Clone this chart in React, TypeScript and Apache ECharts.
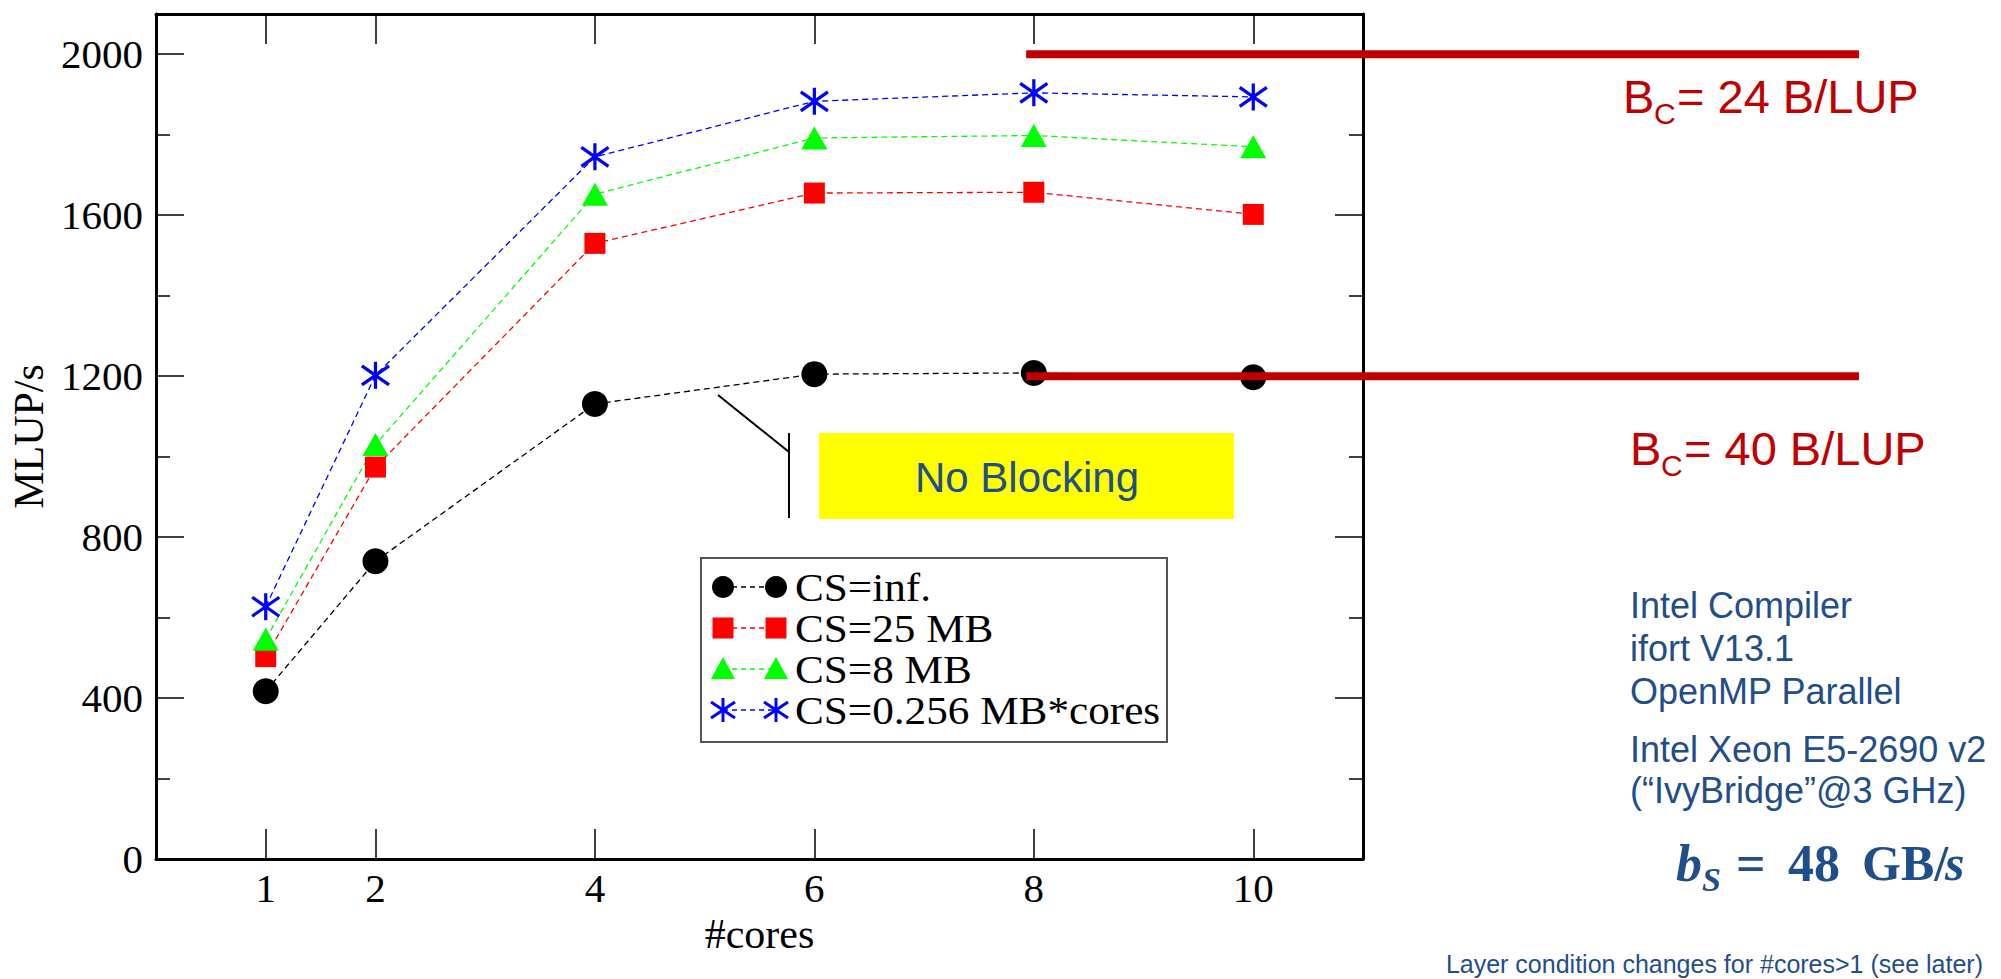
import React, { useEffect, useRef } from 'react';
import * as echarts from 'echarts';

// ---- data ----
const cores = [1, 2, 4, 6, 8, 10];
const seriesNames = ['CS=inf.', 'CS=25 MB', 'CS=8 MB', 'CS=0.256 MB*cores'];
const csInf = [417, 740, 1131, 1205, 1208, 1197];
const cs25 = [503, 974, 1530, 1655, 1657, 1602];
const cs8 = [546, 1030, 1652, 1792, 1798, 1770];
const csStar = [627, 1202, 1745, 1883, 1904, 1894];
const xTicks = [1, 2, 4, 6, 8, 10];
const yMajorTicks = [0, 400, 800, 1200, 1600, 2000];
const yMinorTicks = [200, 600, 1000, 1400, 1800];
const bcLevels = [2000, 1200];
const bcSpan = [7.93, 15.52];
const bcValues = ['= 24 B/LUP', '= 40 B/LUP'];
const infoLines1 = ['Intel Compiler', 'ifort V13.1', 'OpenMP Parallel'];
const infoLines2 = ['Intel Xeon E5-2690 v2', '(\u201CIvyBridge\u201D@3 GHz)'];

const SERIF = 'Liberation Serif';
const SANS = 'Liberation Sans';
const DARKRED = '#C00000';
const NAVY = '#1F4E8A';

const STAR =
  'path://M12.9 0L16.1 0L16.1 27L12.9 27Z M1.92 2.69L28.92 21.69L27.08 24.31L0.08 5.31Z M0.08 21.69L27.08 2.69L28.92 5.31L1.92 24.31Z';

const colors = ['#000000', '#FF0000', '#00FF00', '#0000FF'];
const symbols = ['circle', 'rect', 'triangle', STAR];
const symbolSizes: any[] = [26, 21, [26, 23], [29, 27]];
const values = [csInf, cs25, cs8, csStar];

function txt(text: string, x: number, y: number, size: number, color: string, family: string, opts: any = {}) {
  const align = opts.align || 'left';
  const el: any = {
    type: 'text',
    x,
    y,
    silent: true,
    z: 20,
    style: {
      text,
      fill: color,
      fontSize: size,
      fontFamily: family,
      fontWeight: opts.weight || 'normal',
      fontStyle: opts.italic ? 'italic' : 'normal',
      align,
      textAlign: align,
      verticalAlign: 'middle',
      textVerticalAlign: 'middle',
    },
  };
  if (opts.scaleX) el.scaleX = opts.scaleX;
  return el;
}

function legendSymbol(kind: number, cx: number, cy: number, color: string): any[] {
  if (kind === 0) return [{ type: 'circle', z: 21, shape: { cx, cy, r: 11 }, style: { fill: color } }];
  if (kind === 1) return [{ type: 'rect', z: 21, shape: { x: cx - 10.5, y: cy - 10.5, width: 21, height: 21 }, style: { fill: color } }];
  if (kind === 2)
    return [{ type: 'polygon', z: 21, shape: { points: [[cx, cy - 12], [cx + 12, cy + 10], [cx - 12, cy + 10]] }, style: { fill: color } }];
  const st = { stroke: color, lineWidth: 3 };
  return [
    { type: 'line', z: 21, shape: { x1: cx, y1: cy - 12, x2: cx, y2: cy + 12 }, style: st },
    { type: 'line', z: 21, shape: { x1: cx - 12, y1: cy - 8, x2: cx + 12, y2: cy + 8 }, style: st },
    { type: 'line', z: 21, shape: { x1: cx - 12, y1: cy + 8, x2: cx + 12, y2: cy - 8 }, style: st },
  ];
}

function buildGraphic(px: (x: number) => number, py: (v: number) => number): any[] {
  const els: any[] = [];
  // B_C reference lines (drawn from data via axis scale)
  bcLevels.forEach((v) => {
    els.push({
      type: 'line',
      z: 10,
      silent: true,
      shape: { x1: px(bcSpan[0]), y1: py(v), x2: px(bcSpan[1]), y2: py(v) },
      style: { stroke: DARKRED, lineWidth: 8 },
    });
  });
  // legend
  els.push({ type: 'rect', z: 20, shape: { x: 701, y: 558, width: 466, height: 184 }, style: { fill: '#fff', stroke: '#555', lineWidth: 2 } });
  seriesNames.forEach((name, i) => {
    const y = 587 + 41 * i;
    els.push({ type: 'line', z: 21, shape: { x1: 723, y1: y, x2: 776, y2: y }, style: { stroke: colors[i], lineWidth: 1.3, lineDash: [5, 4] } });
    els.push(...legendSymbol(i, 723, y, colors[i]));
    els.push(...legendSymbol(i, 776, y, colors[i]));
    els.push(txt(name, 795, y + 1, 40, '#000', SERIF, { scaleX: 1.08 }));
  });
  // No Blocking box + pointer
  els.push({ type: 'rect', z: 19, shape: { x: 819, y: 433, width: 415, height: 86 }, style: { fill: '#FFFF00' } });
  els.push(txt('No Blocking', 1027, 477, 42, NAVY, SANS, { align: 'center' }));
  els.push({ type: 'line', z: 19, shape: { x1: 718, y1: 395, x2: 789, y2: 452 }, style: { stroke: '#000', lineWidth: 2 } });
  els.push({ type: 'line', z: 19, shape: { x1: 789, y1: 433, x2: 789, y2: 518 }, style: { stroke: '#000', lineWidth: 2 } });
  // B_C labels
  const bcPos = [
    { x: 1623, y: 96, sy: 113 },
    { x: 1630, y: 448, sy: 465 },
  ];
  bcPos.forEach((p, i) => {
    els.push(txt('B', p.x, p.y, 47, DARKRED, SANS));
    els.push(txt('C', p.x + 31, p.sy, 30, DARKRED, SANS));
    els.push(txt(bcValues[i], p.x + 54, p.y, 47, DARKRED, SANS));
  });
  // info texts
  infoLines1.forEach((t, i) => els.push(txt(t, 1630, 605 + 43 * i, 36, NAVY, SANS)));
  infoLines2.forEach((t, i) => els.push(txt(t, 1630, 749 + 41 * i, 36, NAVY, SANS)));
  // b_S = 48 GB/s
  els.push(txt('b', 1676, 863, 52, NAVY, SERIF, { weight: 'bold', italic: true }));
  els.push(txt('S', 1702, 879, 34, NAVY, SERIF, { weight: 'bold', italic: true }));
  els.push(txt('=', 1736, 863, 52, NAVY, SERIF, { weight: 'bold' }));
  els.push(txt('48', 1788, 863, 52, NAVY, SERIF, { weight: 'bold' }));
  els.push(txt('GB/', 1862, 863, 50, NAVY, SERIF, { weight: 'bold' }));
  els.push(txt('s', 1945, 863, 50, NAVY, SERIF, { weight: 'bold', italic: true }));
  // footer
  els.push(txt('Layer condition changes for #cores>1 (see later)', 1983, 964, 25, NAVY, SANS, { align: 'right' }));
  return els;
}

const axisLineStyle = { show: true, onZero: false, lineStyle: { color: '#000', width: 3 } };
const plainNumber = (v: number) => String(v);

export default function App() {
  const ref = useRef<HTMLDivElement>(null);
  useEffect(() => {
    if (!ref.current) return;
    const chart = echarts.init(ref.current, null, { renderer: 'svg' });
    const dataSeries = values.map((vals, i) => ({
      name: seriesNames[i],
      type: 'line',
      xAxisIndex: 0,
      yAxisIndex: 0,
      data: cores.map((c, k) => [c, vals[k]]),
      symbol: symbols[i],
      symbolSize: symbolSizes[i],
      showAllSymbol: true,
      lineStyle: { color: colors[i], width: 1.3, type: [6, 4] },
      itemStyle: { color: colors[i] },
      z: 3,
      silent: true,
    }));
    const tickStyle = { color: '#000', width: 1.5 };
    const option: any = {
      animation: false,
      backgroundColor: '#ffffff',
      grid: { left: 156, right: 638, top: 14, bottom: 120, containLabel: false },
      xAxis: [
        {
          type: 'value',
          position: 'bottom',
          min: 0,
          max: 11,
          name: '#cores',
          nameLocation: 'middle',
          nameGap: 37,
          nameTextStyle: { fontFamily: SERIF, fontSize: 42, color: '#000' },
          axisLine: axisLineStyle,
          axisTick: { show: true, inside: true, length: 30, lineStyle: tickStyle, customValues: xTicks },
          axisLabel: { show: true, customValues: xTicks, margin: 8, fontFamily: SERIF, fontSize: 41, color: '#000', formatter: plainNumber },
          splitLine: { show: false },
        },
        {
          type: 'value',
          position: 'top',
          min: 0,
          max: 11,
          axisLine: axisLineStyle,
          axisTick: { show: true, inside: true, length: 30, lineStyle: tickStyle, customValues: xTicks },
          axisLabel: { show: false },
          splitLine: { show: false },
        },
      ],
      yAxis: [
        {
          type: 'value',
          position: 'left',
          min: 0,
          max: 2100,
          interval: 400,
          name: 'MLUP/s',
          nameLocation: 'middle',
          nameGap: 103,
          nameTextStyle: { fontFamily: SERIF, fontSize: 42, color: '#000' },
          axisLine: axisLineStyle,
          axisTick: { show: true, inside: true, length: 28, lineStyle: tickStyle, customValues: yMajorTicks },
          axisLabel: { show: true, customValues: yMajorTicks, margin: 13, fontFamily: SERIF, fontSize: 41, color: '#000', formatter: plainNumber },
          splitLine: { show: false },
        },
        {
          type: 'value',
          position: 'left',
          min: 0,
          max: 2100,
          interval: 400,
          axisLine: { show: false, onZero: false },
          axisTick: { show: true, inside: true, length: 14, lineStyle: tickStyle, customValues: yMinorTicks },
          axisLabel: { show: false },
          splitLine: { show: false },
        },
        {
          type: 'value',
          position: 'right',
          min: 0,
          max: 2100,
          interval: 400,
          axisLine: axisLineStyle,
          axisTick: { show: true, inside: true, length: 28, lineStyle: tickStyle, customValues: yMajorTicks },
          axisLabel: { show: false },
          splitLine: { show: false },
        },
        {
          type: 'value',
          position: 'right',
          min: 0,
          max: 2100,
          interval: 400,
          axisLine: { show: false, onZero: false },
          axisTick: { show: true, inside: true, length: 14, lineStyle: tickStyle, customValues: yMinorTicks },
          axisLabel: { show: false },
          splitLine: { show: false },
        },
      ],
      series: dataSeries,
    };
    chart.setOption(option);
    const a = chart.convertToPixel({ xAxisIndex: 0, yAxisIndex: 0 }, [0, 0]) as number[];
    const b = chart.convertToPixel({ xAxisIndex: 0, yAxisIndex: 0 }, [10, 2000]) as number[];
    const px = (x: number) => a[0] + ((b[0] - a[0]) * x) / 10;
    const py = (v: number) => a[1] + ((b[1] - a[1]) * v) / 2000;
    chart.setOption({ graphic: { elements: buildGraphic(px, py) } });
    return () => chart.dispose();
  }, []);
  return (
    <div
      ref={ref}
      style={{ position: 'absolute', left: 0, top: 0, width: 2001, height: 979, background: '#fff' }}
    />
  );
}
